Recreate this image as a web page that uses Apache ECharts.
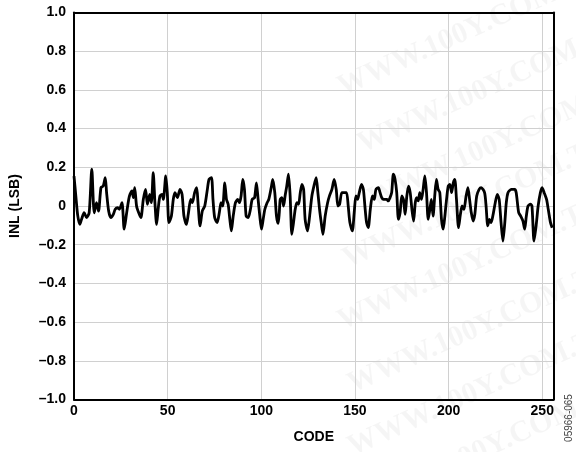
<!DOCTYPE html>
<html>
<head>
<meta charset="utf-8">
<script src="https://cdn.jsdelivr.net/npm/echarts@6/dist/echarts.min.js"></script>
<style>html,body{margin:0;padding:0;background:#fff}#c{width:576px;height:452px}</style>
</head>
<body>
<div id="c"></div>
<script>
const codes = [0,1,2,3.1,4,5.4,6.7,8.1,9.5,10.8,12,13.1,14.4,15.6,16.7,17.4,18.5,19.7,21,22,23.3,24.2,25.6,26.8,28,29.2,29.9,31,31.7,32.4,33.4,34.5,35.7,
37,38.2,39.2,40.4,41.3,42.3,43.2,44.1,45,45.9,47,47.7,49,49.8,50.7,52,53,53.9,55.2,56.6,57.7,58.7,60,61,62.3,63.2,64.4,65.5,66.2,67.3,68.5,69.8,71.2,72.1,
73.4,74.2,75.1,76.4,77.6,78.5,79.4,80.5,81.4,82.3,83.2,84,85,86.2,87.4,88.3,89.2,90.1,91,91.9,93,94.2,95.1,96.4,97.4,98.3,99.2,100.1,101,101.9,103.1,104,105.3,106.1,107.2,108.1,109,
109.6,110.1,111,111.9,112.7,113.6,114.5,115.4,116.3,117.2,118.1,119,119.9,120.8,121.7,122.6,123.4,124.7,125.8,127,128.3,129.3,130.2,131.1,132,132.9,134.1,135.4,136.4,137.7,138.9,140,140.9,141.8,143,144.3,145.5,
146.4,147.3,148.6,149.6,150.5,151.4,152.3,153.5,154.5,155.3,156.2,157.1,158.2,159.3,160.3,161.2,162.5,163.4,164.3,165.2,166.1,167,167.8,168.7,169.6,170.5,171.4,172.3,173.2,174.1,175,175.9,176.8,177.7,178.6,179.5,180.4,181.3,
182.2,183,183.8,184.6,185.5,186.4,187.3,188.2,189.1,190,190.8,191.7,192.6,193.5,194.4,195.3,196.2,197.1,198,198.9,199.8,200.7,201.6,202.5,203.3,204.2,205.3,206.3,207.2,208.2,209.2,210.3,211.2,212.1,213.1,214,215,216.3,217.4,
219.2,220,220.9,221.8,222.7,223.6,224.9,226,227,228,229,230,230.8,231.7,233.5,235.3,236.1,237.4,238.5,239.7,240.6,241.5,242.4,243.7,244.5,245.6,246.9,247.8,249,249.9,251,252.3,253.2,254.4,255.3];
const inl = [0.155,0.05,-0.05,-0.095,-0.07,-0.035,-0.06,-0.035,0.19,-0.035,0.017,-0.026,0.095,0.103,0.147,0.069,-0.026,-0.06,-0.043,-0.017,-0.009,-0.017,0.017,-0.12,-0.043,0.034,0.06,0.078,0.043,0.095,0,-0.034,-0.06,
0.034,0.086,0.009,0.06,0.017,0.172,0.017,-0.095,-0.009,0.052,0.06,0.034,0.155,0.069,-0.086,-0.052,0.034,0.069,0.043,0.086,0.06,-0.052,-0.095,-0.043,0.034,0.017,0.069,0.095,0.017,-0.103,-0.026,0,0.086,0.138,
0.147,0.034,-0.06,-0.086,-0.034,0.017,0,0.12,0.034,0.009,-0.069,-0.129,-0.052,0.017,0.034,0.017,0.052,0.138,0.086,-0.052,-0.06,-0.017,0.034,0.043,0.12,0.034,-0.052,-0.12,-0.069,-0.017,0.017,0.034,0.095,0.138,0.069,-0.052,-0.09,
-0.035,0.034,0.043,0,0.052,0.103,0.164,0.052,-0.147,-0.086,-0.017,0.017,0.009,0.069,0.112,0.086,-0.069,-0.129,-0.052,0.052,0.112,0.147,0.069,-0.017,-0.086,-0.147,-0.052,0.017,0.052,0.086,0.138,0.086,0,0.009,0.069,0.069,0.069,
0,-0.086,-0.129,-0.034,0.052,0.034,0.069,0.112,0.086,0,-0.086,-0.112,-0.017,0.052,0.034,0.086,0.095,0.069,0.043,0.034,0.034,0.034,0.026,0.043,0.069,0.164,0.138,0.069,-0.069,-0.034,0.052,0.034,-0.043,0.052,0.103,0.069,-0.017,-0.078,
0.017,0.043,0.026,0.069,0.034,0.086,0.155,0.069,-0.069,-0.017,0.034,-0.052,0.052,0.138,0.086,0.069,-0.069,-0.12,-0.052,0.034,0.103,0.112,0.069,0.12,0.138,0.034,-0.112,-0.043,0,-0.017,0.043,0.095,0.034,-0.034,-0.078,-0.043,0.052,0.086,0.095,
0.069,0,-0.103,-0.069,-0.086,-0.052,0.017,0.06,0.034,-0.086,-0.181,-0.086,0.017,0.069,0.086,0.086,0.069,-0.034,-0.052,-0.078,-0.12,-0.052,0,0.009,0,-0.181,-0.086,0,0.069,0.095,0.069,0.034,-0.017,-0.086,-0.112];
const xTicks = [0,50,100,150,200,250];
const yTicks = [-1.0,-0.8,-0.6,-0.4,-0.2,0,0.2,0.4,0.6,0.8,1.0];
const xTitle = 'CODE';
const yTitle = 'INL (LSB)';
const sideNote = '05966-065';
const watermark = 'WWW.100Y.COM.TW';

const chart = echarts.init(document.getElementById('c'));
const F = '"Liberation Sans", Arial, sans-serif';
const wmPos = [[475,28],[495,85],[505,140],[480,200],[475,262],[485,325],[485,388],[495,445]];
const graphics = wmPos.map(p => ({
  type:'text', x:p[0], y:p[1], rotation:0.42, z:-10, silent:true,
  style:{text:watermark, fill:'rgba(0,0,0,0.04)', font:'bold 30px "Liberation Serif", serif', align:'center', verticalAlign:'middle'}
}));
graphics.push({type:'text', x:569, y:418, rotation:Math.PI/2, style:{text:sideNote, fill:'#444', font:'10px '+F, align:'center', verticalAlign:'middle'}});
const frame = {show:true, onZero:false, lineStyle:{color:'#000', width:2}};
chart.setOption({
  animation:false,
  grid:{left:73.5, right:22.5, top:12.5, bottom:52.5},
  xAxis:[{type:'value', min:0, max:256, interval:50,
    name:xTitle, nameLocation:'middle', nameGap:31,
    nameTextStyle:{fontFamily:F, fontWeight:'bold', fontSize:14, color:'#000'},
    axisLine:frame, axisTick:{show:false},
    axisLabel:{showMaxLabel:false, fontFamily:F, fontWeight:'bold', fontSize:14, color:'#000', margin:5,
      formatter:v => xTicks.includes(v) ? String(v) : ''},
    splitLine:{show:true, lineStyle:{color:'#d0d0d0', width:1}}},
   {type:'value', position:'top', min:0, max:256, axisLine:frame, axisTick:{show:false}, axisLabel:{show:false}, splitLine:{show:false}}],
  yAxis:[{type:'value', min:-1, max:1, interval:0.2,
    name:yTitle, nameLocation:'middle', nameGap:52, nameRotate:90,
    nameTextStyle:{fontFamily:F, fontWeight:'bold', fontSize:14, color:'#000'},
    axisLine:frame, axisTick:{show:false},
    axisLabel:{fontFamily:F, fontWeight:'bold', fontSize:14, color:'#000', margin:8,
      formatter:v => { const t = yTicks.find(k => Math.abs(k - v) < 1e-6); if (t === undefined) return ''; if (t === 0) return '0'; return (t < 0 ? '\u2013' : '') + Math.abs(t).toFixed(1); }},
    splitLine:{show:true, lineStyle:{color:'#d0d0d0', width:1}}},
   {type:'value', position:'right', min:-1, max:1, axisLine:frame, axisTick:{show:false}, axisLabel:{show:false}, splitLine:{show:false}}],
  graphic:graphics,
  series:[{type:'line', data:codes.map((c,i)=>[c, inl[i]]), showSymbol:false, smooth:0.25,
    lineStyle:{color:'#000', width:2.8}, z:5}]
});
</script>
</body>
</html>
